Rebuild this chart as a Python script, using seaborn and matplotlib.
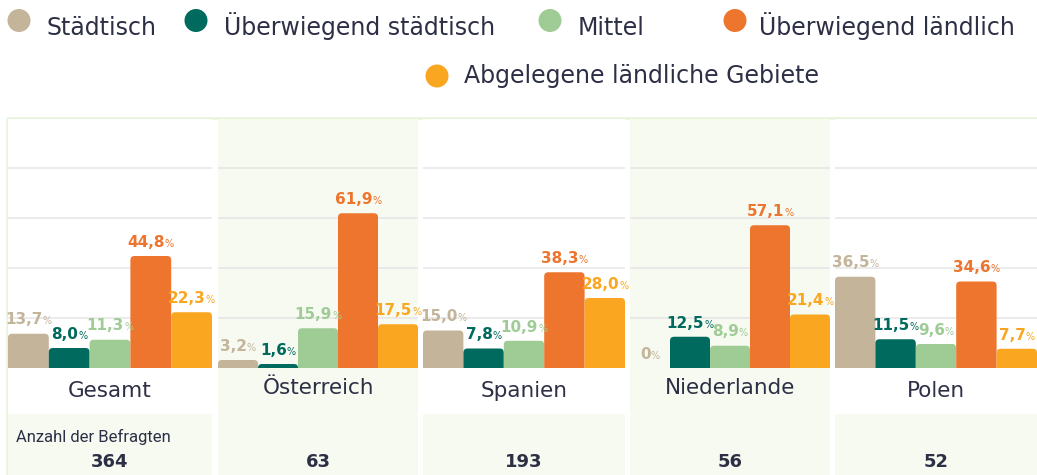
"""
Grouped bar chart: share of respondents by settlement type, per country.
"""

import pandas as pd
import matplotlib.pyplot as plt
import matplotlib.patches as mpatches
from matplotlib.offsetbox import TextArea, HPacker, AnnotationBbox
import seaborn as sns

# data
regions = ['Gesamt', 'Österreich', 'Spanien', 'Niederlande', 'Polen']
types = ['Städtisch', 'Überwiegend städtisch', 'Mittel',
         'Überwiegend ländlich', 'Abgelegene ländliche Gebiete']
staedtisch = [13.7, 3.2, 15.0, 0.0, 36.5]
ueberw_staedtisch = [8.0, 1.6, 7.8, 12.5, 11.5]
mittel = [11.3, 15.9, 10.9, 8.9, 9.6]
ueberw_laendlich = [44.8, 61.9, 38.3, 57.1, 34.6]
abgelegen = [22.3, 17.5, 28.0, 21.4, 7.7]
respondents = [364, 63, 193, 56, 52]

colors = ['#c3b49a', '#006a5e', '#9fcb95', '#ed752d', '#fba621']
text_dark = '#2d2f45'
light_green = '#f6faf1'
border_green = '#e6f4da'

W, H = 1037, 475
sns.set_theme(style='white')
plt.rcParams['font.family'] = ['DejaVu Sans']

fig = plt.figure(figsize=(W / 100, H / 100), dpi=100)


def px_axes(x0, y0, x1, y1, **kw):
    return fig.add_axes([x0 / W, 1 - y1 / H, (x1 - x0) / W, (y1 - y0) / H], **kw)


# background: borders and legend in pixel coordinates
ax_bg = px_axes(0, 0, W, H, zorder=-1)
ax_bg.set_xlim(0, W)
ax_bg.set_ylim(H, 0)
ax_bg.axis('off')
ax_bg.plot([7, W], [118, 118], color=border_green, lw=1.8, solid_capstyle='butt')
ax_bg.plot([7, 7], [118, H], color=border_green, lw=1.8, solid_capstyle='butt')

legend_items = [(19, 20.5, 46, 35), (196, 20.5, 224, 35), (550, 20.5, 578, 35),
                (735, 20.5, 759, 35), (437, 76, 464, 83)]
for (cx, cy, tx, ty), label, c in zip(legend_items, types, colors):
    ax_bg.add_patch(mpatches.Circle((cx, cy), 11.5, color=c, lw=0))
    ax_bg.text(tx, ty, label, va='baseline', ha='left', fontsize=17, color=text_dark)

# panels
panels = [(8, 212), (218, 418), (423, 625), (630, 830), (835, 1037)]
top_px, base_px, row_px = 119, 368, 414
px_per_unit = 2.5
y_top = (base_px - top_px) / px_per_unit
y_bot = (base_px - H) / px_per_unit
y_row = (base_px - row_px) / px_per_unit

series = [staedtisch, ueberw_staedtisch, mittel, ueberw_laendlich, abgelegen]

for i, (region, (x0, x1)) in enumerate(zip(regions, panels)):
    green = i % 2 == 1
    ax = px_axes(x0, top_px, x1, H)
    ax.set_facecolor(light_green if green else 'white')

    df = pd.DataFrame({'type': types, 'value': [s[i] for s in series]})
    sns.barplot(data=df, x='type', y='value', hue='type', order=types,
                hue_order=types, palette=colors, width=1.0, legend=False,
                saturation=1, ax=ax)

    ax.set_xlim(-0.5, 4.5)
    ax.set_ylim(y_bot, y_top)

    # rounded tops
    aspect = (1 / px_per_unit) / (5 / (x1 - x0))
    clip = mpatches.Rectangle((-0.5, 0), 5, 200, transform=ax.transData)
    for p in list(ax.patches):
        bx, bw, bh = p.get_x(), p.get_width(), p.get_height()
        fc = p.get_facecolor()
        p.remove()
        if bh <= 0:
            continue
        fb = mpatches.FancyBboxPatch((bx, -4), bw, bh + 4,
                                     boxstyle='round,pad=0,rounding_size=0.1',
                                     mutation_aspect=aspect, fc=fc, ec='none', zorder=2)
        ax.add_patch(fb)
        fb.set_clip_path(clip)

    for g in [20, 40, 60, 80]:
        ax.plot([-0.5, 4.5], [g, g], color='#e6e6e6', lw=1.1, zorder=1)

    if not green:
        ax.axhspan(y_bot, y_row, color=light_green, lw=0, zorder=0.5)

    # value labels
    for j, v in enumerate(df['value']):
        num = '0' if v == 0 else f'{v:.1f}'.replace('.', ',')
        box = HPacker(children=[
            TextArea(num, textprops=dict(color=colors[j], fontsize=11, fontweight='bold')),
            TextArea('%', textprops=dict(color=colors[j], fontsize=7)),
        ], align='baseline', pad=0, sep=0)
        ab = AnnotationBbox(box, (j, v), xybox=(0, 4.5), xycoords='data',
                            boxcoords='offset points', box_alignment=(0.5, 0),
                            frameon=False, pad=0, zorder=4)
        ax.add_artist(ab)

    label_y = (base_px - (388 if green else 391)) / px_per_unit
    ax.text(2, label_y, region, ha='center', va='center', fontsize=15.5, color=text_dark)
    ax.text(2, (base_px - 462) / px_per_unit, str(respondents[i]), ha='center',
            va='center', fontsize=13, fontweight='bold', color=text_dark)

    ax.set_xticks([])
    ax.set_yticks([])
    ax.set_xlabel('')
    ax.set_ylabel('')
    for s in ax.spines.values():
        s.set_visible(False)

fig.text(16 / W, 1 - 437 / H, 'Anzahl der Befragten', ha='left', va='center',
         fontsize=12, color=text_dark, family=['Roboto', 'DejaVu Sans'])

plt.savefig('out.png', dpi=100)
plt.close()
